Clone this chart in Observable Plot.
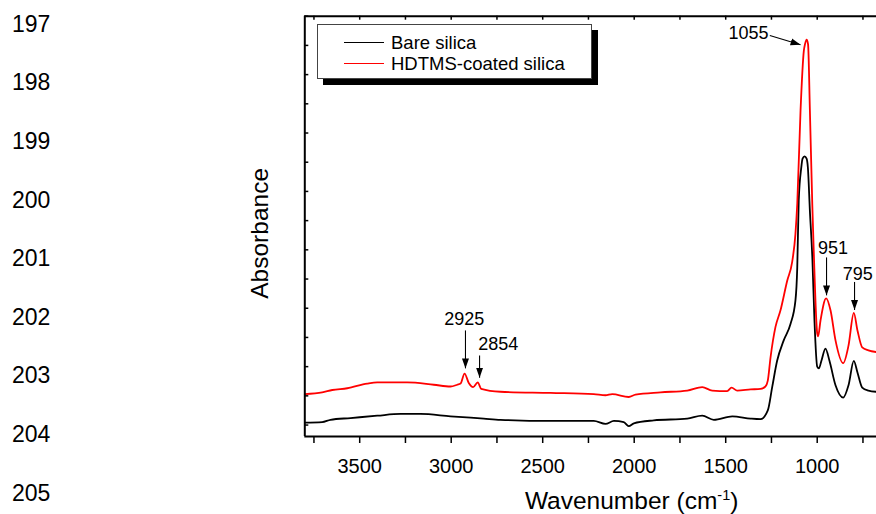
<!DOCTYPE html>
<html>
<head>
<meta charset="utf-8">
<script src="https://cdn.jsdelivr.net/npm/d3@7"></script>
<script src="https://cdn.jsdelivr.net/npm/@observablehq/plot@0.6"></script>
<style>
html, body { margin: 0; padding: 0; background: #fff; overflow: hidden; }
#wrap { position: relative; width: 876px; height: 514px; font-family: "Liberation Sans", Arial, sans-serif; }
#chart { position: absolute; left: 0; top: 0; }
.ln { position: absolute; left: 12px; font-size: 23px; line-height: 23px; color: #000; }
#legend { position: absolute; left: 317px; top: 24px; width: 275px; height: 55px; border: 1px solid #444; background: #fff; box-shadow: 6px 6px 0 #000; box-sizing: border-box; }
.lg-line { position: absolute; left: 26px; width: 40px; height: 0; border-top: 1.6px solid #000; }
.lg-text { position: absolute; left: 73px; font-size: 18.5px; line-height: 20px; color: #000; white-space: nowrap; }
</style>
</head>
<body>
<div id="wrap">
  <div id="chart"></div>
</div>
<script>
// ---------- data ----------
const seriesNames = ["Bare silica", "HDTMS-coated silica"];
const seriesColors = ["#000000", "#ff0000"];

const bareWavenumber = [3800, 3705, 3660, 3550, 3404, 3277, 3168, 3004, 2822, 2731, 2457, 2221, 2157, 2111, 2057, 2030, 2002, 1893, 1710, 1628, 1565, 1464, 1364, 1310, 1270, 1246, 1219, 1183, 1146, 1119, 1109, 1101, 1087, 1080, 1069, 1058, 1051, 1040, 1026, 1015, 1000, 991, 977, 955, 933, 900, 858, 829, 800, 780, 754, 720, 676];
const bareAbs = [0.004, 0.005, 0.009, 0.012, 0.016, 0.019, 0.019, 0.015, 0.011, 0.009, 0.007, 0.007, 0.002, 0.007, 0.005, -0.002, 0.003, 0.008, 0.011, 0.016, 0.009, 0.015, 0.011, 0.010, 0.025, 0.065, 0.110, 0.145, 0.173, 0.213, 0.270, 0.384, 0.441, 0.456, 0.460, 0.456, 0.441, 0.367, 0.282, 0.179, 0.100, 0.097, 0.110, 0.131, 0.110, 0.068, 0.047, 0.068, 0.110, 0.090, 0.064, 0.059, 0.057];

const coatedWavenumber = [3800, 3705, 3650, 3568, 3459, 3404, 3240, 3095, 3004, 2967, 2949, 2927, 2904, 2880, 2855, 2836, 2731, 2457, 2221, 2157, 2120, 2030, 1993, 1856, 1710, 1628, 1574, 1492, 1468, 1437, 1364, 1310, 1283, 1270, 1255, 1228, 1201, 1164, 1137, 1119, 1109, 1091, 1073, 1066, 1058, 1050, 1040, 1027, 1019, 1000, 995, 982, 951, 927, 900, 858, 829, 800, 780, 754, 720, 676];
const coatedAbs = [0.053, 0.056, 0.060, 0.063, 0.071, 0.073, 0.073, 0.069, 0.066, 0.069, 0.071, 0.088, 0.072, 0.065, 0.073, 0.062, 0.057, 0.055, 0.053, 0.051, 0.053, 0.048, 0.052, 0.056, 0.059, 0.065, 0.059, 0.058, 0.064, 0.059, 0.061, 0.062, 0.066, 0.076, 0.116, 0.168, 0.196, 0.247, 0.279, 0.327, 0.379, 0.539, 0.641, 0.653, 0.660, 0.652, 0.539, 0.379, 0.299, 0.157, 0.152, 0.179, 0.217, 0.196, 0.145, 0.106, 0.136, 0.192, 0.162, 0.133, 0.128, 0.125];

// peak annotations
const annLabels = ["1055", "951", "795", "2925", "2854"];
const annTextX = [1375, 914, 778, 2929, 2743];
const annTextY = [0.671, 0.302, 0.258, 0.182, 0.139];
const annFromX = [1259, 949, 796, 2922, 2845];
const annFromY = [0.667, 0.287, 0.245, 0.162, 0.119];
const annToX = [1091, 949, 796, 2922, 2845];
const annToY = [0.651, 0.222, 0.197, 0.097, 0.081];

// axes
const xDomain = [3800, 676];
const yDomain = [-0.0196, 0.70];
const xTicksMajor = [3500, 3000, 2500, 2000, 1500, 1000];
const xTicksMinor = [3750, 3250, 2750, 2250, 1750, 1250, 750];
const yTicks = [0, 0.05, 0.10, 0.15, 0.20, 0.25, 0.30, 0.35, 0.40, 0.45, 0.50, 0.55, 0.60, 0.65, 0.70];
const xTitleMain = "Wavenumber (cm";
const xTitleSup = "-1";
const xTitleEnd = ")";
const yTitle = "Absorbance";

// manuscript line numbers at left
const lineNumbers = ["197", "198", "199", "200", "201", "202", "203", "204", "205"];

// ---------- build ----------
const W = 876, H = 514;
const mL = 304.3, mR = 0, mT = 15.7, mB = 78;
const frameW = W - mL - mR, frameH = H - mT - mB;

const bare = bareWavenumber.map((w, i) => ({w, a: bareAbs[i]}));
const coated = coatedWavenumber.map((w, i) => ({w, a: coatedAbs[i]}));
const ann = annLabels.map((label, i) => ({
  label, tx: annTextX[i], ty: annTextY[i],
  x1: annFromX[i], y1: annFromY[i], x2: annToX[i], y2: annToY[i]
}));

function filledArrow(color, context) {
  const m = d3.create("svg:marker")
    .attr("viewBox", "-5 -5 10 10")
    .attr("markerWidth", 10).attr("markerHeight", 10)
    .attr("markerUnits", "userSpaceOnUse")
    .attr("orient", "auto")
    .attr("refX", 5).attr("refY", 0)
    .attr("fill", "#000").attr("stroke", "none");
  m.append("path").attr("d", "M-5,-3.5L5,0L-5,3.5Z");
  return m.node();
}
let endMarker = filledArrow;
try { Plot.link([], {x1: 0, x2: 0, y1: 0, y2: 0, markerEnd: filledArrow}); } catch (e) { endMarker = "arrow"; }

const xTitleFull = xTitleMain + xTitleSup + xTitleEnd;

const svg = Plot.plot({
  width: W, height: H,
  marginLeft: mL, marginRight: mR, marginTop: mT, marginBottom: mB,
  style: {fontFamily: '"Liberation Sans", Arial, sans-serif', background: "transparent", color: "#000"},
  x: {domain: xDomain},
  y: {domain: yDomain, axis: null},
  marks: [
    Plot.axisX({ticks: xTicksMajor, tickSize: 7, tickPadding: 15, fontSize: 20, label: null, strokeWidth: 1.5, tickFormat: d => String(d)}),
    Plot.axisX({ticks: xTicksMinor, tickSize: 7, label: null, strokeWidth: 1.5, tickFormat: () => ""}),
    Plot.tickX(xTicksMajor.concat(xTicksMinor), {x: d => d, insetBottom: frameH - 4, stroke: "#000", strokeWidth: 1.5}),
    Plot.tickY(yTicks, {y: d => d, insetRight: frameW - 4, stroke: "#000", strokeWidth: 1.5}),
    Plot.line(bare, {x: "w", y: "a", stroke: seriesColors[0], strokeWidth: 1.8, curve: "monotone-x"}),
    Plot.line(coated, {x: "w", y: "a", stroke: seriesColors[1], strokeWidth: 1.8, curve: "monotone-x"}),
    Plot.ruleY([yDomain[0], yDomain[1]], {stroke: "#000", strokeWidth: 2}),
    Plot.ruleX([xDomain[0]], {stroke: "#000", strokeWidth: 2}),
    Plot.link(ann, {x1: "x1", y1: "y1", x2: "x2", y2: "y2", stroke: "#000", strokeWidth: 1.1, markerEnd: endMarker}),
    Plot.text(ann, {x: "tx", y: "ty", text: "label", fontSize: 18, fill: "#000"}),
    Plot.text([xTitleFull], {frameAnchor: "bottom", textAnchor: "middle", lineAnchor: "middle", dx: 41, dy: 65, fontSize: 24.5, fill: "#000"}),
    Plot.text([yTitle], {frameAnchor: "left", textAnchor: "middle", lineAnchor: "middle", rotate: -90, dx: -45, dy: 7, fontSize: 24.5, fill: "#000"})
  ]
});

// superscript in the x-axis title
d3.select(svg).selectAll("text").filter(function () { return this.textContent === xTitleFull; }).each(function () {
  const t = d3.select(this);
  t.text(null);
  t.append("tspan").text(xTitleMain);
  t.append("tspan").attr("dy", -9).attr("font-size", 14.5).text(xTitleSup);
  t.append("tspan").attr("dy", 9).text(xTitleEnd);
});

document.getElementById("chart").appendChild(svg);

const wrap = document.getElementById("wrap");
// line numbers
lineNumbers.forEach((s, i) => {
  const d = document.createElement("div");
  d.className = "ln";
  d.style.top = (24 - 11.3 + i * 58.6) + "px";
  d.textContent = s;
  wrap.appendChild(d);
});

// legend
const lg = document.createElement("div");
lg.id = "legend";
seriesNames.forEach((name, i) => {
  const cy = 18 + i * 21;
  const ln = document.createElement("div");
  ln.className = "lg-line";
  ln.style.top = (cy - 1) + "px";
  ln.style.borderTopColor = seriesColors[i];
  lg.appendChild(ln);
  const tx = document.createElement("div");
  tx.className = "lg-text";
  tx.style.top = (cy - 10) + "px";
  tx.textContent = name;
  lg.appendChild(tx);
});
wrap.appendChild(lg);
</script>
</body>
</html>
